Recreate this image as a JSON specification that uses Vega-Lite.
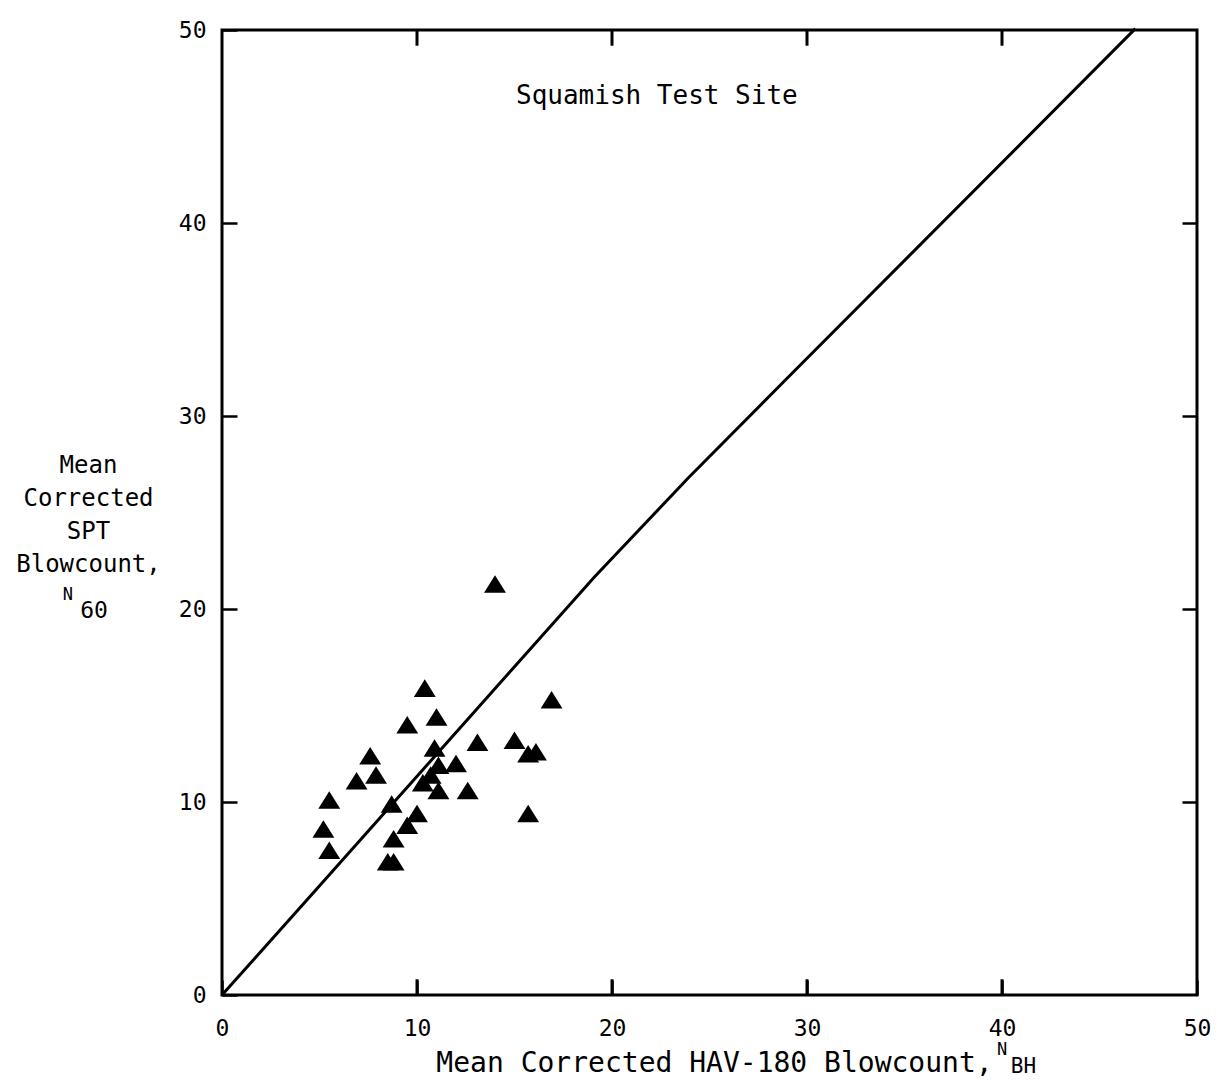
{
  "$schema": "https://vega.github.io/schema/vega-lite/v6.json",
  "width": 975,
  "height": 965,
  "autosize": {"type": "none"},
  "padding": {"left": 222, "top": 30, "right": 33, "bottom": 85},
  "background": "white",
  "config": {
    "view": {"stroke": "black", "strokeWidth": 3},
    "font": "DejaVu Sans Mono",
    "axis": {
      "grid": false,
      "domain": false,
      "ticks": true,
      "tickColor": "black",
      "tickWidth": 2.5,
      "zindex": 1,
      "labelColor": "black",
      "labelFont": "DejaVu Sans Mono",
      "labelFontSize": 23,
      "labelFlush": false,
      "titleColor": "black",
      "titleFont": "DejaVu Sans Mono",
      "titleFontWeight": "normal"
    }
  },
  "datasets": {
    "points": [
      {"hav": 14.0, "spt": 21.3},
      {"hav": 10.4, "spt": 15.9},
      {"hav": 11.0, "spt": 14.4},
      {"hav": 9.5, "spt": 14.0},
      {"hav": 13.1, "spt": 13.1},
      {"hav": 15.0, "spt": 13.2},
      {"hav": 15.7, "spt": 12.5},
      {"hav": 16.1, "spt": 12.6},
      {"hav": 16.9, "spt": 15.3},
      {"hav": 7.6, "spt": 12.4},
      {"hav": 6.9, "spt": 11.1},
      {"hav": 7.9, "spt": 11.4},
      {"hav": 5.5, "spt": 10.1},
      {"hav": 5.2, "spt": 8.6},
      {"hav": 5.5, "spt": 7.5},
      {"hav": 12.0, "spt": 12.0},
      {"hav": 12.6, "spt": 10.6},
      {"hav": 15.7, "spt": 9.4},
      {"hav": 8.5, "spt": 6.9},
      {"hav": 8.8, "spt": 6.9},
      {"hav": 10.9, "spt": 12.8},
      {"hav": 11.1, "spt": 11.9},
      {"hav": 11.1, "spt": 10.6},
      {"hav": 10.3, "spt": 11.0},
      {"hav": 8.7, "spt": 9.9},
      {"hav": 10.0, "spt": 9.4},
      {"hav": 9.5, "spt": 8.8},
      {"hav": 8.8, "spt": 8.1},
      {"hav": 10.7, "spt": 11.4}
    ],
    "line": [
      {"hav": 0, "spt": 0},
      {"hav": 4.73, "spt": 5.35},
      {"hav": 19.11, "spt": 21.67},
      {"hav": 23.92, "spt": 26.8},
      {"hav": 28.88, "spt": 31.85},
      {"hav": 46.84, "spt": 50.07}
    ],
    "xticks": [
      {"t": 10},
      {"t": 20},
      {"t": 30},
      {"t": 40}
    ]
  },
  "layer": [
    {
      "data": {"name": "points"},
      "mark": {"type": "point", "shape": "M-1,0.8L0,-0.8L1,0.8Z", "filled": true, "color": "black", "size": 480, "opacity": 1},
      "encoding": {
        "x": {
          "field": "hav", "type": "quantitative",
          "scale": {"domain": [0, 50], "nice": false, "zero": false},
          "axis": {
            "orient": "bottom",
            "offset": -15,
            "values": [0, 10, 20, 30, 40, 50],
            "ticks": true,
            "tickSize": 15,
            "tickWidth": 2.5,
            "labelPadding": 22,
            "title": "Mean Corrected HAV-180 Blowcount,",
            "titleFontSize": 28,
            "titleAlign": "center",
            "titleBaseline": "middle",
            "titleX": 492,
            "titleY": 83
          }
        },
        "y": {
          "field": "spt", "type": "quantitative",
          "scale": {"domain": [0, 50], "nice": false, "zero": false},
          "axis": {
            "orient": "left",
            "values": [0, 10, 20, 30, 40, 50],
            "ticks": true,
            "tickSize": -15,
            "labelPadding": 31,
            "title": ["Mean", "Corrected", "SPT", "Blowcount,"],
            "titleFontSize": 24,
            "titleAngle": 0,
            "titleAlign": "center",
            "titleBaseline": "top",
            "titleLineHeight": 33,
            "titleX": -134,
            "titleY": 423
          }
        }
      }
    },
    {
      "data": {"name": "line"},
      "mark": {"type": "line", "color": "black", "strokeWidth": 3},
      "encoding": {
        "x": {
          "field": "hav", "type": "quantitative",
          "scale": {"domain": [0, 50], "nice": false, "zero": false},
          "axis": null
        },
        "y": {
          "field": "spt", "type": "quantitative",
          "scale": {"domain": [0, 50], "nice": false, "zero": false},
          "axis": {"orient": "right", "values": [10, 20, 30, 40], "ticks": true, "tickSize": -15, "labels": false, "title": null}
        }
      }
    },
    {
      "data": {"name": "xticks"},
      "mark": {"type": "tick", "orient": "vertical", "color": "black", "thickness": 3, "size": 16, "opacity": 1},
      "encoding": {
        "x": {"field": "t", "type": "quantitative", "axis": null},
        "y": {"datum": 49.6, "type": "quantitative", "axis": null}
      }
    },
    {
      "data": {"name": "xticks"},
      "mark": {"type": "tick", "orient": "vertical", "color": "black", "thickness": 3, "size": 16, "opacity": 1},
      "encoding": {
        "x": {"field": "t", "type": "quantitative", "axis": null},
        "y": {"datum": 0.4, "type": "quantitative", "axis": null}
      }
    },
    {
      "data": {"values": [{}]},
      "mark": {"type": "text", "text": "Squamish Test Site", "font": "DejaVu Sans Mono", "fontSize": 26, "align": "center", "baseline": "middle", "color": "black"},
      "encoding": {
        "x": {"datum": 22.3, "type": "quantitative", "axis": null},
        "y": {"datum": 46.6, "type": "quantitative", "axis": null}
      }
    },
    {
      "data": {"values": [{}]},
      "mark": {"type": "text", "text": "N", "font": "DejaVu Sans Mono", "fontSize": 17, "align": "center", "baseline": "middle", "color": "black"},
      "encoding": {
        "x": {"datum": -7.9, "type": "quantitative", "axis": null},
        "y": {"datum": 20.7, "type": "quantitative", "axis": null}
      }
    },
    {
      "data": {"values": [{}]},
      "mark": {"type": "text", "text": "60", "font": "DejaVu Sans Mono", "fontSize": 23, "align": "center", "baseline": "middle", "color": "black"},
      "encoding": {
        "x": {"datum": -6.56, "type": "quantitative", "axis": null},
        "y": {"datum": 19.9, "type": "quantitative", "axis": null}
      }
    },
    {
      "data": {"values": [{}]},
      "mark": {"type": "text", "text": "N", "font": "DejaVu Sans Mono", "fontSize": 17, "align": "center", "baseline": "middle", "color": "black"},
      "encoding": {
        "x": {"datum": 40.0, "type": "quantitative", "axis": null},
        "y": {"datum": -2.85, "type": "quantitative", "axis": null}
      }
    },
    {
      "data": {"values": [{}]},
      "mark": {"type": "text", "text": "BH", "font": "DejaVu Sans Mono", "fontSize": 21, "align": "center", "baseline": "middle", "color": "black"},
      "encoding": {
        "x": {"datum": 41.1, "type": "quantitative", "axis": null},
        "y": {"datum": -3.75, "type": "quantitative", "axis": null}
      }
    }
  ],
  "resolve": {"axis": {"x": "independent", "y": "independent"}}
}
